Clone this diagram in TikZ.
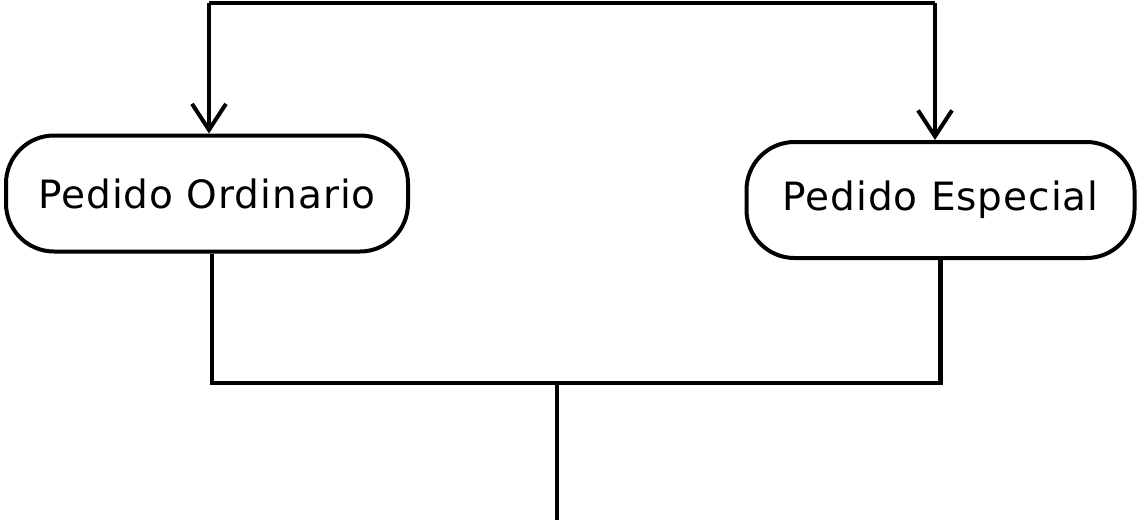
\documentclass[tikz,border=0pt]{standalone}
\usepackage{fontspec}
\setmainfont{DejaVu Sans}[LetterSpace=2.5]
\usetikzlibrary{arrows.meta}

\begin{document}
\begin{tikzpicture}[x=0.5pt,y=-0.5pt,
	pedido/.style={draw,line width=2pt,rounded corners=24pt,fill=white,font=\fontsize{19.5}{22}\selectfont,inner sep=0pt},
	linea/.style={line width=2.1pt},
	flecha/.style={linea,-{Straight Barb[length=13pt,width=17pt,line width=2pt]}}]
	\useasboundingbox (0,0) rectangle (1140,520);

	% Draw the two order nodes
	\node[pedido,minimum width=201pt,minimum height=58pt] (ordinario) at (207,193.5) {Pedido Ordinario};
	\node[pedido,minimum width=194pt,minimum height=58pt] (especial) at (940.5,200) {Pedido Especial};

	% Draw the split at the top
	\coordinate (izq) at (209,3);
	\coordinate (der) at (935,3);
	\draw[linea] (izq) -- (der);
	\draw[flecha] (izq) -- (izq |- ordinario.north);
	\draw[flecha] (der) -- (der |- especial.north);

	% Draw the join at the bottom
	\coordinate (union) at (557,383);
	\coordinate (fin) at (557,520);
	\draw[linea] ([xshift=2.5pt]ordinario.south) |- (union) -| (especial.south);
	\draw[linea] (union) -- (fin);
\end{tikzpicture}
\end{document}
